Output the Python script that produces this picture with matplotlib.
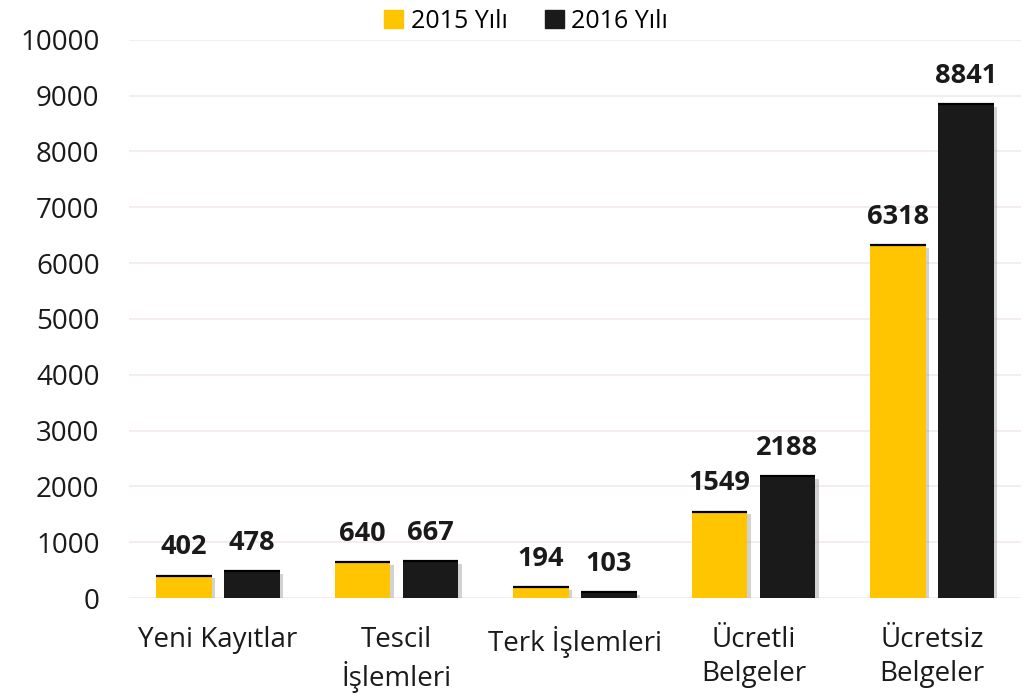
import matplotlib
matplotlib.use("Agg")
import matplotlib.pyplot as plt
import matplotlib.patheffects as pe
from matplotlib.patches import Patch
import numpy as np

categories = ["Yeni Kayıtlar", "Tescil\nİşlemleri", "Terk İşlemleri",
              "Ücretli\nBelgeler", "Ücretsiz\nBelgeler"]
values_2015 = [402, 640, 194, 1549, 6318]
values_2016 = [478, 667, 103, 2188, 8841]
series_names = ["2015 Yılı", "2016 Yılı"]
colors = ["#FFC500", "#1A1A1A"]

plt.rcParams["font.family"] = ["Open Sans", "DejaVu Sans"]

fig = plt.figure(figsize=(10.24, 6.97), dpi=100)
ax = fig.add_axes([0.1257, 0.142, 0.8716, 0.801])

x = np.arange(len(categories))
w = 0.31
off = 0.19
shadow = [pe.SimplePatchShadow(offset=(2.5, -2), shadow_rgbFace="0.5", alpha=0.35), pe.Normal()]

b1 = ax.bar(x - off, values_2015, w, color=colors[0], zorder=3)
b2 = ax.bar(x + off, values_2016, w, color=colors[1], zorder=3)
for bars in (b1, b2):
    for r in bars:
        r.set_path_effects(shadow)
        # thin dark top edge
        ax.plot([r.get_x(), r.get_x() + r.get_width()], [r.get_height()] * 2,
                color="black", lw=1.6, zorder=4, solid_capstyle="butt")

for xs, vals in ((x - off, values_2015), (x + off, values_2016)):
    for xi, v in zip(xs, vals):
        ax.annotate(str(v), (xi, v), xytext=(0, 11), textcoords="offset points",
                    ha="center", va="bottom", fontsize=19.5, fontweight="bold",
                    color="#1A1A1A")

ax.set_xlim(-0.5, len(categories) - 0.5)
ax.set_ylim(0, 10000)
ax.set_yticks(np.arange(0, 10001, 1000))
ax.tick_params(axis="y", labelsize=20, length=0, pad=21, labelcolor="#1A1A1A")
ax.set_xticks(x)
ax.set_xticklabels(categories, fontsize=20, color="#1A1A1A", linespacing=1.3)
ax.tick_params(axis="x", length=0, pad=20)
ax.grid(axis="y", color="#F2E9EA", lw=1.2, zorder=0)
for s in ax.spines.values():
    s.set_visible(False)

handles = [Patch(color=c) for c in colors]
fig.legend(handles=handles, labels=series_names, loc="upper center",
           bbox_to_anchor=(0.514, 1.02), ncol=2, frameon=False, fontsize=18,
           handlelength=0.75, handleheight=0.75, handletextpad=0.3, columnspacing=1.5)

fig.savefig("out.png", dpi=100)
